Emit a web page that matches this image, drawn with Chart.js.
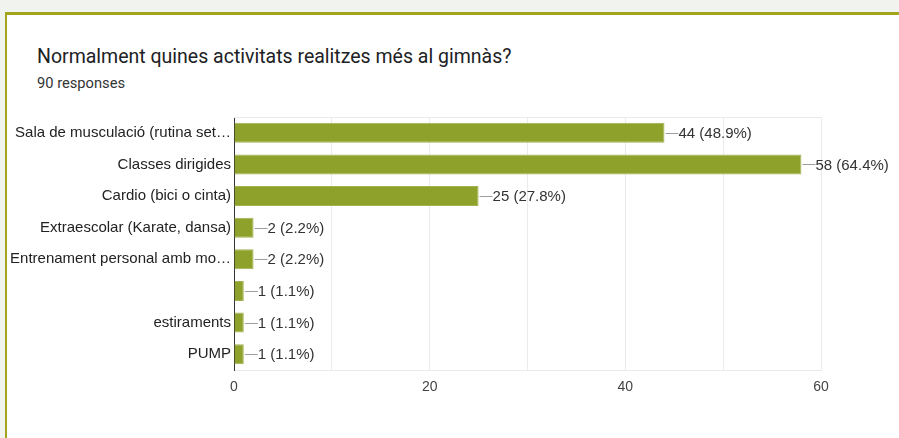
<!DOCTYPE html>
<html>
<head>
    <meta charset="utf-8" />
    <title>Activitats al gimnàs</title>
    <script src="https://cdn.jsdelivr.net/npm/chart.js@4.4.0/dist/chart.umd.min.js"></script>
    <style>
        html, body { margin: 0; padding: 0; background: #f1f3ef; width: 899px; height: 438px; overflow: hidden; }
        .card {
            position: absolute; left: 5px; top: 12px; width: 1000px; height: 500px;
            background: #fff; border-left: 2px solid #a5a41e; border-top: 3px solid #a5a41e;
        }
        .titol { position: absolute; left: 37px; top: 45px; font: 19.5px Roboto, sans-serif; color: #202124; }
        .sub { position: absolute; left: 37px; top: 74px; font: 14.7px Roboto, sans-serif; color: #333; }
        .grafic { position: absolute; left: 0; top: 100px; width: 899px; height: 338px; }
    </style>
</head>
<body>
    <div class="card"></div>
    <div class="titol">Normalment quines activitats realitzes més al gimnàs?</div>
    <div class="sub">90 responses</div>
    <div class="grafic"><canvas id="myChart"></canvas></div>

    <script>
        // respostes de l'enquesta
        const categories = [
            'Sala de musculació (rutina set…',
            'Classes dirigides',
            'Cardio (bici o cinta)',
            'Extraescolar (Karate, dansa)',
            'Entrenament personal amb mo…',
            '',
            'estiraments',
            'PUMP'
        ];
        const respostes = [44, 58, 25, 2, 2, 1, 1, 1];
        const totalRespostes = 90;
        const xTicks = [0, 20, 40, 60];

        const fontBase = 'Liberation Sans, Arial, sans-serif';

        // línia de connexió + "n (x%)" al final de cada barra
        const etiquetes = {
            id: 'etiquetes',
            afterDatasetsDraw(chart) {
                const ctx = chart.ctx;
                const meta = chart.getDatasetMeta(0);
                ctx.save();
                ctx.font = '15px ' + fontBase;
                ctx.textBaseline = 'middle';
                ctx.textAlign = 'left';
                meta.data.forEach(function(bar, i) {
                    const v = respostes[i];
                    const pct = (v / totalRespostes * 100).toFixed(1);
                    ctx.strokeStyle = '#9e9e9e';
                    ctx.lineWidth = 1;
                    ctx.beginPath();
                    ctx.moveTo(bar.x + 1, Math.round(bar.y) + 0.5);
                    ctx.lineTo(bar.x + 14, Math.round(bar.y) + 0.5);
                    ctx.stroke();
                    ctx.fillStyle = '#333';
                    ctx.fillText(v + ' (' + pct + '%)', bar.x + 14, bar.y + 1);
                });
                ctx.restore();
            }
        };

        // marc superior de l'àrea del gràfic
        const marc = {
            id: 'marc',
            beforeDatasetsDraw(chart) {
                const a = chart.chartArea;
                const ctx = chart.ctx;
                ctx.save();
                ctx.strokeStyle = '#ebebeb';
                ctx.lineWidth = 1;
                ctx.beginPath();
                ctx.moveTo(a.left, Math.round(a.top) + 0.5);
                ctx.lineTo(a.right, Math.round(a.top) + 0.5);
                ctx.stroke();
                ctx.restore();
            }
        };

        let myChart = new Chart(document.getElementById('myChart'), {
            type: 'bar',
            data: {
                labels: categories,
                datasets: [{
                    data: respostes,
                    backgroundColor: '#8da12b',
                    borderColor: '#a2b24f',
                    borderWidth: 1,
                    borderSkipped: 'left',
                    categoryPercentage: 1,
                    barPercentage: 0.63
                }]
            },
            options: {
                indexAxis: 'y',
                responsive: true,
                maintainAspectRatio: false,
                animation: false,
                layout: { padding: { top: 17, right: 78, left: 0, bottom: 0 } },
                plugins: {
                    legend: { display: false },
                    tooltip: { enabled: false }
                },
                scales: {
                    x: {
                        min: 0,
                        max: 60,
                        afterFit: function(scale) { scale.height = 68; },
                        afterBuildTicks: function(scale) {
                            scale.ticks = [0, 10, 20, 30, 40, 50, 60].map(v => ({ value: v }));
                        },
                        ticks: {
                            padding: 9,
                            color: '#444',
                            font: { family: fontBase, size: 14 },
                            callback: function(v) { return xTicks.includes(v) ? String(v) : ''; }
                        },
                        grid: { color: '#ebebeb', drawTicks: false },
                        border: { color: '#ebebeb' }
                    },
                    y: {
                        afterFit: function(scale) { scale.width = 234; },
                        ticks: {
                            padding: 3,
                            color: '#222',
                            font: { family: fontBase, size: 15 }
                        },
                        grid: { display: false, drawTicks: false },
                        border: { color: '#333', width: 1 }
                    }
                }
            },
            plugins: [marc, etiquetes]
        });
    </script>
</body>
</html>
